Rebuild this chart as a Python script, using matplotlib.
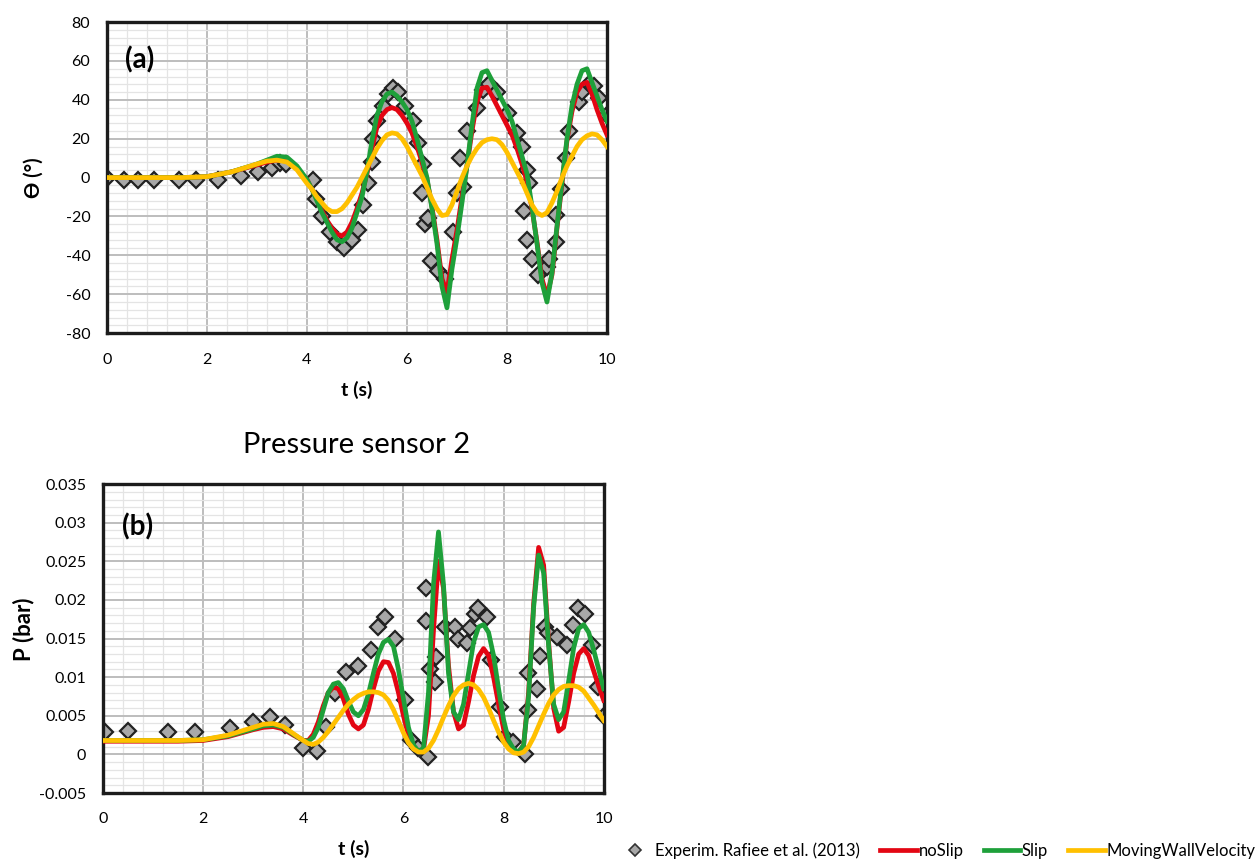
import matplotlib
matplotlib.use("Agg")
import matplotlib.pyplot as plt
from matplotlib.ticker import MultipleLocator, FuncFormatter
from matplotlib.lines import Line2D

plt.rcParams['font.family'] = ['Lato', 'DejaVu Sans']
plt.rcParams['axes.unicode_minus'] = False

# shared time grid (s) for the simulated curves
t = [0, 0.5, 1.0, 1.5, 2.0, 2.5, 3.0, 3.2, 3.4, 3.6, 3.8, 4.0,
     4.1, 4.2, 4.3, 4.4, 4.5, 4.6, 4.7, 4.8, 4.9, 5.0,
     5.1, 5.2, 5.3, 5.4, 5.5, 5.6, 5.7, 5.8, 5.9, 6.0,
     6.1, 6.2, 6.3, 6.4, 6.5, 6.6, 6.7, 6.8, 6.9, 7.0,
     7.1, 7.2, 7.3, 7.4, 7.5, 7.6, 7.7, 7.8, 7.9, 8.0,
     8.1, 8.2, 8.3, 8.4, 8.5, 8.6, 8.7, 8.8, 8.9, 9.0,
     9.1, 9.2, 9.3, 9.4, 9.5, 9.6, 9.7, 9.8, 9.9, 10.0]

# (a) roll angle (deg)
theta_noslip = [0, 0, 0, 0, 0.5, 3, 6.5, 8, 9, 8.5, 5, -1,
                -6, -11, -17, -22, -26, -29, -30, -28, -23, -16,
                -8, 2, 15, 26, 32, 35, 36, 35, 32, 28,
                23, 16, 8, -1, -15, -32, -52, -59, -42, -27,
                -10, 6, 24, 39, 46, 46.5, 42, 37, 32, 27,
                22, 15, 7, -2, -16, -33, -52, -61, -50, -26,
                -3, 19, 34, 44, 48, 49, 43, 35, 28, 22]
theta_slip = [0, 0, 0, 0, 0.5, 3, 7, 9, 11, 10.5, 6, -1,
              -6, -12, -18, -23, -28, -32, -33, -31, -26, -18,
              -10, 3, 19, 32, 39, 43, 44, 42, 39, 35,
              29, 20, 10, 0, -16, -34, -56, -67, -47, -31,
              -13, 6, 27, 46, 54, 55, 50, 45, 40, 35,
              29, 20, 11, 2, -15, -34, -54, -64, -49, -25,
              -2, 20, 37, 48, 55, 56, 49, 42, 35, 29]
theta_mwv = [0, 0, 0, 0, 0.5, 3, 7, 8.5, 9, 8, 4, -3,
             -6, -10, -13, -16, -17.5, -17.5, -16, -13, -9, -5,
             0, 5, 10, 15, 19, 22, 23, 22.5, 20, 16,
             11, 6, 1, -5, -11, -16, -19.5, -19, -14, -7,
             0, 6, 11, 15, 18, 19.5, 20, 19.5, 17, 13,
             8, 3, -2, -8, -14, -18, -19.5, -18, -13, -7,
             0, 6, 11, 16, 19.5, 21.5, 22.5, 22, 19.5, 16]

exp_a_t = [0.0, 0.35, 0.63, 0.94, 1.44, 1.78, 2.22, 2.68, 3.03, 3.3, 3.47, 3.58,
           4.12, 4.18, 4.3, 4.46, 4.6, 4.74, 4.9, 5.02, 5.13, 5.23, 5.3,
           5.33, 5.4, 5.52, 5.63, 5.72, 5.82, 5.97, 6.12, 6.22, 6.32,
           6.3, 6.37, 6.43, 6.48, 6.62, 6.77, 6.92, 7.0, 7.07, 7.13, 7.2,
           7.4, 7.53, 7.64, 7.8, 8.03, 8.2, 8.3, 8.4, 8.44, 8.34, 8.41,
           8.51, 8.62, 8.8, 8.84, 8.98, 8.98, 9.08, 9.18, 9.24, 9.44,
           9.51, 9.64, 9.74, 9.84, 10.0]
exp_a = [0, -1, -1, -1, -1, -1, -1, 1, 3, 5, 7.5, 7,
         -1, -11, -20, -28, -33, -36, -32, -27, -14, -3, 8,
         20, 29, 37, 43, 46, 44, 37, 29, 18, 7,
         -8, -24, -21, -43, -48, -52, -28, -8, 10, -5, 24,
         36, 45, 48, 44, 33, 23, 16, 4, -3, -17, -32,
         -42, -50, -46, -42, -33, -19, -6, 10, 24, 39,
         44, 48, 47, 41, 32]

# (b) pressure sensor 2 (bar)
p_noslip = [0.0017, 0.0017, 0.0017, 0.0017, 0.0018, 0.0023, 0.0032, 0.0035, 0.0036, 0.0033, 0.0025, 0.0018,
            0.0018, 0.0026, 0.0042, 0.0063, 0.0080, 0.0087, 0.0085, 0.0072, 0.0052, 0.0038,
            0.0033, 0.0038, 0.0058, 0.0085, 0.0108, 0.0120, 0.0119, 0.0105, 0.0080, 0.0050,
            0.0025, 0.0010, 0.0004, 0.0006, 0.0050, 0.0160, 0.0250, 0.0215, 0.0115, 0.0055,
            0.0033, 0.0038, 0.0068, 0.0102, 0.0127, 0.0137, 0.0128, 0.0100, 0.0065, 0.0033,
            0.0013, 0.0005, 0.0003, 0.0012, 0.0080, 0.0195, 0.0268, 0.0245, 0.0145, 0.0060,
            0.0030, 0.0035, 0.0068, 0.0105, 0.0130, 0.0137, 0.0128, 0.0108, 0.0088, 0.0070]
p_slip = [0.0018, 0.0018, 0.0018, 0.0018, 0.0019, 0.0024, 0.0033, 0.0037, 0.0038, 0.0035, 0.0026, 0.0018,
          0.0017, 0.0022, 0.0035, 0.0058, 0.0080, 0.0091, 0.0093, 0.0085, 0.0069, 0.0055,
          0.0050, 0.0058, 0.0078, 0.0105, 0.0130, 0.0145, 0.0149, 0.0140, 0.0110, 0.0072,
          0.0035, 0.0012, 0.0004, 0.0008, 0.0080, 0.0220, 0.0288, 0.0220, 0.0105, 0.0055,
          0.0045, 0.0065, 0.0105, 0.0145, 0.0165, 0.0168, 0.0158, 0.0128, 0.0085, 0.0045,
          0.0018, 0.0007, 0.0003, 0.0012, 0.0075, 0.0190, 0.0258, 0.0235, 0.0140, 0.0065,
          0.0045, 0.0055, 0.0095, 0.0138, 0.0163, 0.0168, 0.0158, 0.0135, 0.0110, 0.0085]
p_mwv = [0.0018, 0.0018, 0.0018, 0.0018, 0.0019, 0.0025, 0.0035, 0.0039, 0.0040, 0.0036, 0.0027, 0.0018,
         0.0014, 0.0013, 0.0016, 0.0022, 0.0030, 0.0039, 0.0048, 0.0057, 0.0065, 0.0071,
         0.0076, 0.0079, 0.0081, 0.0081, 0.0080, 0.0077, 0.0070, 0.0058, 0.0043, 0.0028,
         0.0015, 0.0007, 0.0003, 0.0003, 0.0008, 0.0018, 0.0032, 0.0048, 0.0063, 0.0076,
         0.0085, 0.0090, 0.0092, 0.0090, 0.0084, 0.0074, 0.0060, 0.0044, 0.0029, 0.0016,
         0.0007, 0.0002, 0.0001, 0.0003, 0.0010, 0.0022, 0.0037, 0.0052, 0.0066, 0.0077,
         0.0084, 0.0088, 0.0089, 0.0089, 0.0087, 0.0082, 0.0073, 0.0064, 0.0054, 0.0044]

exp_b_t = [0.04, 0.5, 1.3, 1.84, 2.53, 2.99, 3.33, 3.63, 3.99, 4.27, 4.46, 4.63,
           4.86, 5.09, 5.36, 5.5, 5.63, 5.83, 6.03, 6.16, 6.29, 6.49, 6.46, 6.46,
           6.66, 6.53, 6.63, 6.83, 7.03, 7.09, 7.26, 7.33, 7.43, 7.49, 7.66, 7.75,
           7.92, 8.02, 8.19, 8.42, 8.48, 8.48, 8.66, 8.72, 8.82, 8.88, 9.06, 9.26,
           9.38, 9.48, 9.62, 9.76, 9.88, 10.0]
exp_b = [0.0029, 0.0030, 0.0029, 0.0029, 0.0034, 0.0042, 0.0048, 0.0038, 0.0008, 0.0005, 0.0035, 0.0079,
         0.0107, 0.0115, 0.0135, 0.0165, 0.0178, 0.0150, 0.0070, 0.0018, 0.0008, -0.0003, 0.0173, 0.0215,
         0.0126, 0.0111, 0.0094, 0.0165, 0.0165, 0.0150, 0.0144, 0.0163, 0.0182, 0.0190, 0.0178, 0.0122,
         0.0061, 0.0022, 0.0016, 0.0001, 0.0057, 0.0105, 0.0085, 0.0128, 0.0165, 0.0157, 0.0152, 0.0141,
         0.0167, 0.0189, 0.0182, 0.0141, 0.0087, 0.0050]

RED, GREEN, YELLOW = "#e30613", "#1ea03a", "#ffc000"
LW = 3.4

fig = plt.figure(figsize=(12.58, 8.63), dpi=100)
ax_a = fig.add_axes([0.085, 0.614, 0.3975, 0.3604])
ax_b = fig.add_axes([0.0819, 0.0811, 0.398, 0.358])


def style(ax, ylim, ymaj, ymin):
    ax.set_xlim(0, 10)
    ax.set_ylim(*ylim)
    ax.xaxis.set_major_locator(MultipleLocator(2))
    ax.xaxis.set_minor_locator(MultipleLocator(0.4))
    ax.yaxis.set_major_locator(MultipleLocator(ymaj))
    ax.yaxis.set_minor_locator(MultipleLocator(ymin))
    ax.grid(which="major", color="#bdbdbd", lw=1.4, zorder=0)
    ax.grid(which="minor", color="#e4e4e4", lw=0.9, zorder=0)
    ax.set_axisbelow(True)
    ax.tick_params(which="both", length=0, labelsize=11.5)
    ax.tick_params(axis="x", pad=14)
    ax.tick_params(axis="y", pad=12)
    for s in ax.spines.values():
        s.set_linewidth(2.4)
        s.set_color("#1c1c1c")


def draw(ax, et, ev, r, g, y):
    ax.plot(et, ev, ls="none", marker="D", ms=8.5, mfc="#a8a8a8",
            mec="#222222", mew=1.6, zorder=2)
    ax.plot(t, r, color=RED, lw=LW, zorder=3)
    ax.plot(t, g, color=GREEN, lw=LW, zorder=4)
    ax.plot(t, y, color=YELLOW, lw=LW, zorder=5)


# panel (a)
draw(ax_a, exp_a_t, exp_a, theta_noslip, theta_slip, theta_mwv)
style(ax_a, (-80, 80), 20, 4)
ax_a.set_xlabel("t (s)", fontsize=14, fontweight="bold")
ax_a.xaxis.set_label_coords(0.5, -0.153)
ax_a.set_ylabel("Ɵ (°)", fontsize=14.5, fontweight="bold")
ax_a.yaxis.set_label_coords(-0.126, 0.5)
ax_a.text(0.036, 0.878, "(a)", transform=ax_a.transAxes, fontsize=20,
          fontweight="bold", va="center", ha="left")

# panel (b)
draw(ax_b, exp_b_t, exp_b, p_noslip, p_slip, p_mwv)
style(ax_b, (-0.005, 0.035), 0.005, 0.001)
ax_b.yaxis.set_major_formatter(FuncFormatter(lambda v, p: "%g" % round(v, 4)))
ax_b.set_xlabel("t (s)", fontsize=14, fontweight="bold")
ax_b.xaxis.set_label_coords(0.5, -0.153)
ax_b.set_ylabel("P (bar)", fontsize=16, fontweight="bold")
ax_b.yaxis.set_label_coords(-0.138, 0.53)
ax_b.text(0.038, 0.86, "(b)", transform=ax_b.transAxes, fontsize=20,
          fontweight="bold", va="center", ha="left")
ax_b.text(0.507, 1.126, "Pressure sensor 2", transform=ax_b.transAxes,
          fontsize=21, ha="center", va="center")

handles = [
    Line2D([], [], ls="none", marker="D", ms=6, mfc="#a8a8a8", mec="#333333", mew=1.2),
    Line2D([], [], color=RED, lw=LW),
    Line2D([], [], color=GREEN, lw=LW),
    Line2D([], [], color=YELLOW, lw=LW),
]
labels = ["Experim. Rafiee et al. (2013)", "noSlip", "Slip", "MovingWallVelocity"]
fig.legend(handles, labels, loc="center right", bbox_to_anchor=(0.998, 0.0139),
           ncol=4, frameon=False, fontsize=12, handlelength=2.2,
           handletextpad=0.1, columnspacing=1.2, borderpad=0, borderaxespad=0)

fig.savefig("out.png", dpi=100)
